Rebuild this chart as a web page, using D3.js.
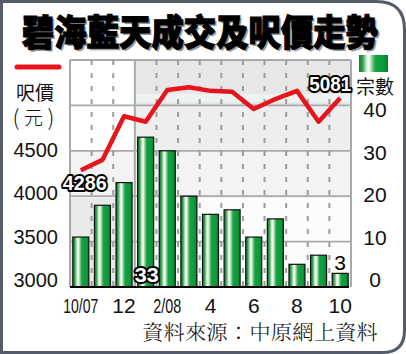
<!DOCTYPE html>
<html>
<head>
<meta charset="utf-8">
<script src="https://cdn.jsdelivr.net/npm/d3@7"></script>
<style>
body { margin: 0; background: #fff; }
svg { display: block; }
</style>
</head>
<body>
<svg width="406" height="354"></svg>
<script>
var months = ['10/07','11/07','12/07','1/08','2/08','3/08','4/08','5/08','6/08','7/08','8/08','9/08','10/08'];
var monthLabels = ['10/07','','12','','2/08','','4','','6','','8','','10'];
var deals = [11, 18, 23, 33, 30, 20, 16, 17, 11, 15, 5, 7, 3];
var prices = [4286, 4400, 4880, 4820, 5170, 5200, 5160, 5150, 4960, 5070, 5160, 4820, 5081];
var priceTicks = [3000, 3500, 4000, 4500];
var dealTicks = [0, 10, 20, 30, 40];

var svg = d3.select('svg');
var cjk = '"Noto Sans CJK TC", "Noto Sans CJK SC", sans-serif';
var num = '"Liberation Sans", Arial, sans-serif';

var pL = 70, pR = 351, pT = 60, pB = 287;

var x = d3.scaleBand().domain(months).range([pL, pR]).paddingInner(0.26).paddingOuter(0.13);
var yL = d3.scaleLinear().domain([3000, 5500]).range([pB, pT]);
var yR = d3.scaleLinear().domain([0, 50]).range([pB, pT]);
// tick labels in the print are spaced a bit tighter than the grid
var yLlab = d3.scaleLinear().domain([3000, 4500]).range([280, 150]);
var yRlab = d3.scaleLinear().domain([0, 40]).range([280, 110]);

// frame
var W = 406, H = 354, r1 = 28, r2 = 22, s = 1.5;
svg.append('path')
    .attr('d', 'M' + s + ',' + s + ' L' + (W - s - r1) + ',' + s +
        ' Q' + (W - s) + ',' + s + ' ' + (W - s) + ',' + (s + r1) +
        ' L' + (W - s) + ',' + (H - s - r2) +
        ' Q' + (W - s) + ',' + (H - s) + ' ' + (W - s - r2) + ',' + (H - s) +
        ' L' + s + ',' + (H - s) + ' Z')
    .attr('fill', '#fff')
    .attr('stroke', '#535c68')
    .attr('stroke-width', 3);

// title
var title = '碧海藍天成交及呎價走勢';
svg.append('text')
    .attr('x', 24).attr('y', 32)
    .attr('dominant-baseline', 'central')
    .attr('textLength', 356).attr('lengthAdjust', 'spacingAndGlyphs')
    .style('font-family', cjk).style('font-size', '36px').style('font-weight', 900)
    .attr('fill', '#9a9a9a')
    .text(title);
svg.append('text')
    .attr('x', 22).attr('y', 30)
    .attr('dominant-baseline', 'central')
    .attr('textLength', 356).attr('lengthAdjust', 'spacingAndGlyphs')
    .style('font-family', cjk).style('font-size', '36px').style('font-weight', 900)
    .attr('fill', '#000').attr('stroke', '#000').attr('stroke-width', 1.2)
    .text(title);

// plot background bands
var split = pL + 3 * x.step();
var bg = [
    [pL, pT, split, 150, '#ffffff'],
    [split, pT, pR, 105, '#e7e7e7'],
    [split, 94, pR, 102, '#edf3f0'],
    [split, 105, pR, 150, '#eeeeee'],
    [pL, 150, pR, 198, '#f3f3f3'],
    [pL, 198, split, pB, '#e9e9e9'],
    [split, 198, pR, pB, '#fcfcfc']
];
svg.append('g').selectAll('rect').data(bg).enter().append('rect')
    .attr('x', function(d){ return d[0]; })
    .attr('y', function(d){ return d[1]; })
    .attr('width', function(d){ return d[2] - d[0]; })
    .attr('height', function(d){ return d[3] - d[1]; })
    .attr('fill', function(d){ return d[4]; });

// grid
var grid = svg.append('g');
var hLines = [3500, 4000, 4500, 5000, 5500];
grid.selectAll('.h').data(hLines).enter().append('line')
    .attr('x1', pL).attr('x2', pR)
    .attr('y1', function(d){ return yL(d); })
    .attr('y2', function(d){ return yL(d); })
    .attr('stroke', '#a9a9a9').attr('stroke-width', 1.8);
function solidV(d){ return d == 0 || d == 3 || d == months.length; }
grid.selectAll('.v').data(d3.range(0, months.length + 1)).enter().append('line')
    .attr('x1', function(d){ return pL + d * x.step(); })
    .attr('x2', function(d){ return pL + d * x.step(); })
    .attr('y1', pT).attr('y2', pB)
    .attr('stroke', function(d){ return solidV(d) ? '#a9a9a9' : '#9c9c9c'; })
    .attr('stroke-width', 2)
    .attr('stroke-dasharray', function(d){ return solidV(d) ? null : '5,8'; });

// bar gradient
var defs = svg.append('defs');
var grad = defs.append('linearGradient').attr('id', 'barGrad')
    .attr('x1', '0%').attr('x2', '100%').attr('y1', '0%').attr('y2', '0%');
[['0%', '#0d7a2f'], ['12%', '#2f9d4b'], ['26%', '#cdebcf'], ['34%', '#ffffff'],
 ['44%', '#97d39a'], ['56%', '#17a243'], ['85%', '#0a9a3a'], ['100%', '#087f2e']]
    .forEach(function(st){
        grad.append('stop').attr('offset', st[0]).attr('stop-color', st[1]);
    });

// bars
svg.append('g').selectAll('rect')
    .data(deals)
    .enter()
    .append('rect')
    .attr('x', function(d, i){ return x(months[i]); })
    .attr('y', function(d){ return yR(d); })
    .attr('width', x.bandwidth())
    .attr('height', function(d){ return yR(0) - yR(d); })
    .attr('fill', 'url(#barGrad)')
    .attr('stroke', '#111')
    .attr('stroke-width', 1.2);

// baseline
svg.append('line')
    .attr('x1', pL).attr('x2', pR - 2)
    .attr('y1', pB).attr('y2', pB)
    .attr('stroke', '#000').attr('stroke-width', 2);

// price line
var line = d3.line()
    .x(function(d, i){ return x(months[i]) + x.bandwidth() / 2; })
    .y(function(d){ return yL(d); });
svg.append('path')
    .datum(prices)
    .attr('d', line)
    .attr('fill', 'none')
    .attr('stroke', '#e8141c')
    .attr('stroke-width', 4.5)
    .attr('stroke-linejoin', 'round');

// value labels
function outlined(txt, cx, cy, len) {
    svg.append('text')
        .attr('x', cx).attr('y', cy)
        .attr('text-anchor', 'middle').attr('dominant-baseline', 'central')
        .attr('textLength', len).attr('lengthAdjust', 'spacingAndGlyphs')
        .style('font-family', num).style('font-size', '21px').style('font-weight', 'bold')
        .attr('fill', '#fff').attr('stroke', '#000').attr('stroke-width', 4)
        .attr('stroke-linejoin', 'round').style('paint-order', 'stroke')
        .text(txt);
}
var cx0 = x(months[0]) + x.bandwidth() / 2;
var cxN = x(months[12]) + x.bandwidth() / 2;
outlined(prices[0], cx0 + 4, yL(prices[0]) + 12, 44);
outlined(prices[12], cxN - 10, yL(prices[12]) - 15, 42);
outlined(deals[3], x(months[3]) + x.bandwidth() / 2 + 1, yR(0) - 13, 24);
svg.append('text')
    .attr('x', cxN).attr('y', yR(deals[12]) - 11)
    .attr('text-anchor', 'middle').attr('dominant-baseline', 'central')
    .style('font-family', num).style('font-size', '21px')
    .text(deals[12]);

// left axis
var axL = svg.append('g')
    .attr('transform', 'translate(58,0)')
    .call(d3.axisLeft(yLlab).tickValues(priceTicks).tickSize(0).tickPadding(0).tickFormat(d3.format('d')));
axL.select('.domain').remove();
axL.selectAll('text')
    .style('font-family', num).style('font-size', '20px').attr('fill', '#111');

// right axis
var axR = svg.append('g')
    .attr('transform', 'translate(375,0)')
    .call(d3.axisRight(yRlab).tickValues(dealTicks).tickSize(0).tickPadding(0));
axR.select('.domain').remove();
axR.selectAll('text')
    .attr('text-anchor', 'middle')
    .style('font-family', num).style('font-size', '21px').attr('fill', '#111');

// x labels
svg.append('g').selectAll('text')
    .data(monthLabels)
    .enter()
    .append('text')
    .filter(function(d){ return d != ''; })
    .attr('x', function(d){ return x(months[monthLabels.indexOf(d)]) + x.bandwidth() / 2; })
    .attr('y', 313)
    .attr('text-anchor', 'middle')
    .attr('textLength', function(d){ return d.indexOf('/') >= 0 ? (d.length == 5 ? 35 : 28) : null; })
    .attr('lengthAdjust', 'spacingAndGlyphs')
    .style('font-family', num).style('font-size', '21px').attr('fill', '#111')
    .text(function(d){ return d; });

// legends
svg.append('line')
    .attr('x1', 17).attr('x2', 59).attr('y1', 67).attr('y2', 67)
    .attr('stroke', '#e8141c').attr('stroke-width', 5).attr('stroke-linecap', 'round');
svg.append('text').attr('x', 35).attr('y', 91)
    .attr('text-anchor', 'middle').attr('dominant-baseline', 'central')
    .style('font-family', cjk).style('font-size', '19px').attr('fill', '#111')
    .text('呎價');
[['(', 16], ['元', 33.5], [')', 51]].forEach(function(p){
    svg.append('text').attr('x', p[1]).attr('y', 116)
        .attr('text-anchor', 'middle').attr('dominant-baseline', 'central')
        .style('font-family', cjk).style('font-size', p[0] == '元' ? '19px' : '22px')
        .style('font-weight', 300).attr('fill', '#111')
        .text(p[0]);
});
svg.append('rect')
    .attr('x', 359).attr('y', 55).attr('width', 29).attr('height', 17)
    .attr('fill', 'url(#barGrad)');
svg.append('text').attr('x', 375).attr('y', 85)
    .attr('text-anchor', 'middle').attr('dominant-baseline', 'central')
    .style('font-family', cjk).style('font-size', '19px').attr('fill', '#111')
    .text('宗數');

// source
svg.append('text').attr('x', 142).attr('y', 331)
    .attr('dominant-baseline', 'central')
    .attr('textLength', 236).attr('lengthAdjust', 'spacingAndGlyphs')
    .style('font-family', '"Noto Serif CJK TC", ' + cjk).style('font-size', '20px')
    .style('font-weight', 300).attr('fill', '#111')
    .text('資料來源：中原網上資料');
</script>
</body>
</html>
